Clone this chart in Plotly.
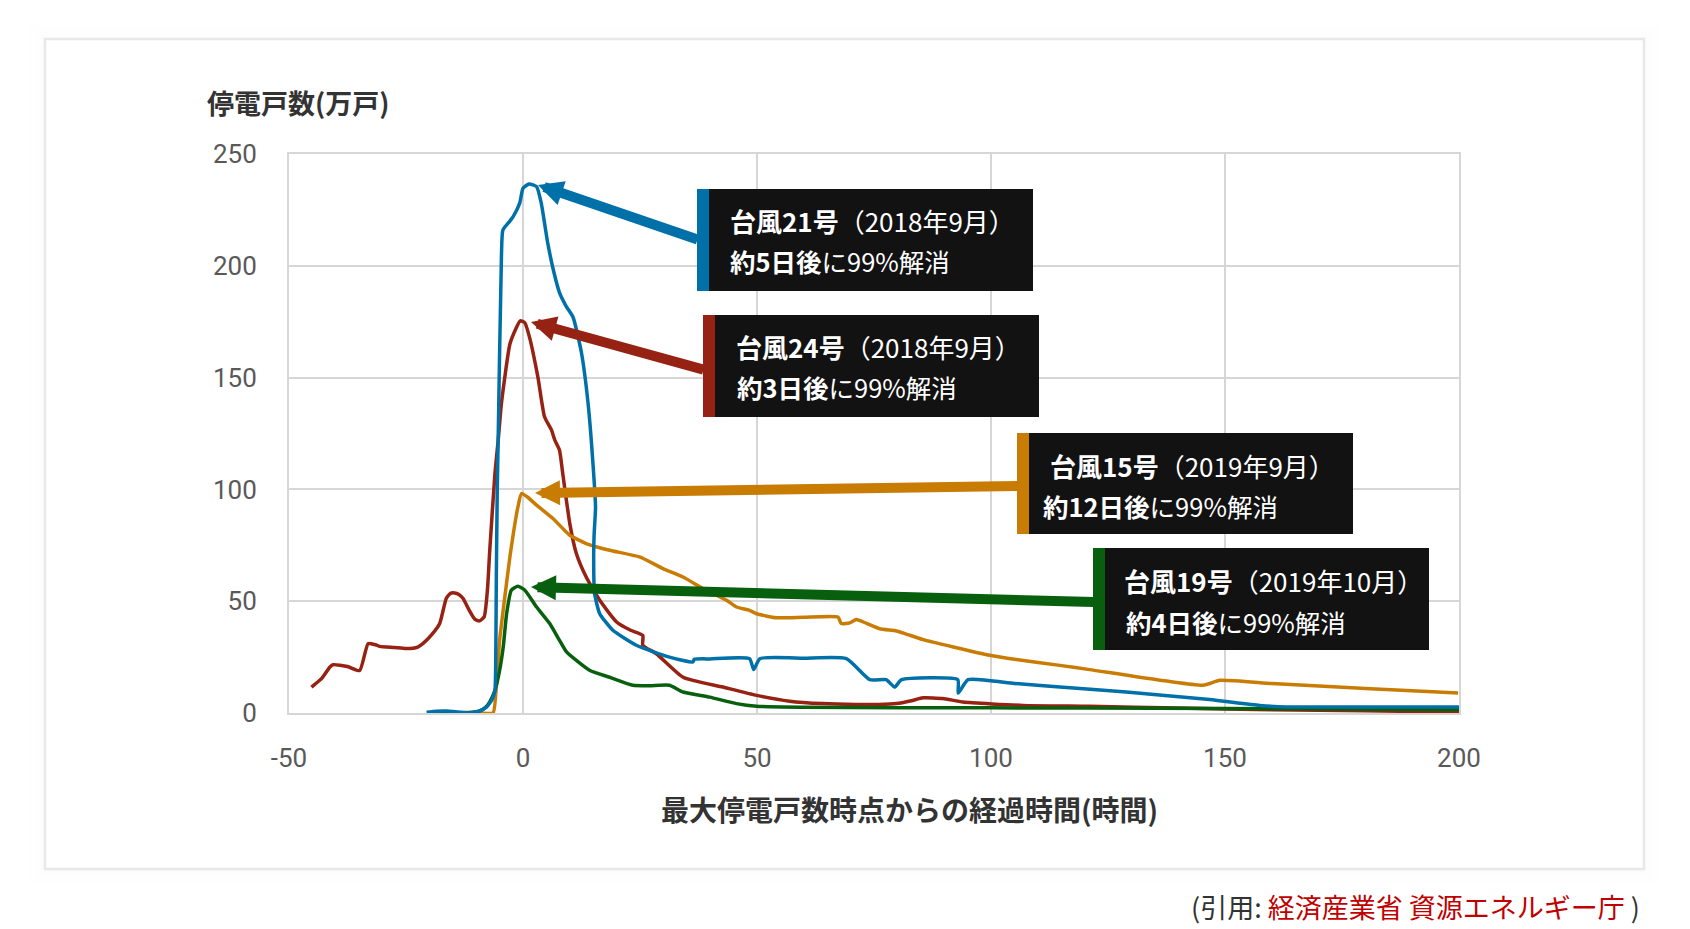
import plotly.graph_objects as go

# 台風21号 (2018年9月)
t21_x = [-20.6, -18.5, -16.4, -14, -11.4, -9.5, -7.8, -6.6, -6, -5.8, -5.7, -5.5, -5.3, -4.6, -4.3,
         -2.8, -2.1, -0.7, 0, 1.3, 2.9, 3.9, 5.3, 6.5, 7.8, 9.2, 10.7, 12.5, 13.9, 15, 15.5, 15.2,
         15.1, 15.3, 16.4, 19.2, 24.2, 31.3, 36.3, 36.6, 40, 48.4, 49.3, 50.6, 60, 69.1, 74.1, 77.6,
         79.4, 80.9, 92.9, 93, 95.1, 105, 114.7, 128.9, 146.7, 157.4, 163.1, 180, 200]
t21_y = [0.3, 0.8, 0.9, 0.5, 0, 0.8, 2.6, 6, 10, 30, 60, 100, 123, 205, 216,
         220, 222, 228, 234.7, 236.6, 235.4, 228, 210, 198, 188, 182, 177, 161, 138.6, 110, 92, 80,
         69.8, 53.4, 44.4, 37, 30.3, 25, 22.8, 24, 24.2, 24.3, 19.4, 24.3, 24.5, 24.3, 14.9, 14.9,
         11.6, 14.9, 14.9, 8.9, 14.9, 13.2, 11.6, 9.4, 6, 3.4, 2.7, 2.7, 2.7]

# 台風24号 (2018年9月)
t24_x = [-45.2, -43, -41.3, -40.6, -37.5, -34.9, -33.1, -31.5, -30.6, -27.5, -24.9, -22.5, -21.4,
         -19.5, -17.8, -16.4, -15.5, -14.6, -13.7, -12.8, -11.5, -10.3, -9.3, -8.3, -7.6, -7.1, -6,
         -5.3, -4.6, -2.8, -1.5, -0.6, 0.4, 1.4, 3.2, 4.6, 6.1, 6.8, 7.8, 8.5, 10, 11.4, 13.5, 16.4,
         20, 23, 25.6, 25.6, 28.5, 34.2, 42.7, 49.9, 57, 64, 71.2, 76, 79.8, 83, 85.5, 89.7, 94,
         106.8, 121.1, 140, 160, 180, 200]
t24_y = [11.6, 15.5, 20.5, 21.6, 20.8, 19, 31, 30.5, 29.8, 29.3, 28.8, 29.5, 31,
         35, 40, 51.2, 53.5, 53.7, 53, 51.2, 46, 42, 41.2, 43, 55, 72.8, 107,
         122, 138.6, 165, 172, 175.4, 174.5, 168, 150, 132.5, 126.5, 122, 117.5, 107, 84.7, 71.3, 60.8, 50.4,
         40.7, 37, 34.7, 30.3, 26.5, 16, 11.6, 7.9, 5.3, 4.2, 3.8, 3.8, 4.2, 5.5, 6.8, 6.5, 4.9,
         3.4, 3, 2.2, 1.5, 1.0, 0.4]

# 台風15号 (2019年9月)
t15_x = [-11, -9, -6.4, -5.7, -5, -4, -2.8, -1.1, -0.3, 1, 2.9, 6.4, 10, 13.5, 18.5, 24.9, 29.9,
         34.2, 38.5, 43.5, 45.6, 48.4, 49.9, 54.1, 60, 67.3, 68, 69.8, 71.2, 73.4, 76.2, 79.8, 81.9,
         85.5, 92.6, 99.7, 105.4, 114.7, 121.1, 145.3, 148.9, 160, 180, 199.8]
t15_y = [0, 0, 0, 12, 32.5, 50, 69.8, 92, 98.2, 96.5, 93, 87, 79.5, 75.8, 72.8, 69.8, 64.6,
         60.8, 55.6, 50.4, 47.4, 45.9, 44.4, 42.6, 42.8, 42.9, 40, 40.3, 41.8, 40.1, 37.7, 36.7, 35.3,
         32.8, 29.2, 25.8, 23.9, 21.3, 19.4, 12.4, 14.6, 13.2, 11, 8.9]

# 台風19号 (2019年10月)
t19_x = [-19.9, -15, -11, -9.3, -8, -7.1, -6, -5, -4.2, -3.5, -2.5, -1.1, 0.4, 2.9, 5.7, 7.8,
         9.3, 11.4, 14.3, 18.5, 23.5, 27, 31.3, 34.2, 39.9, 45.6, 49.9, 60, 80, 100, 120, 150, 180, 200]
t19_y = [0, 0, 0.3, 0.8, 2.5, 5, 10, 19, 30, 44.4, 54.9, 56.7, 54.9, 47.4, 40, 32.5,
         27.3, 23.5, 19, 16, 12.4, 12.2, 12.4, 9.4, 7.1, 4.2, 3.0, 2.6, 2.4, 2.3, 2.2, 2.0, 1.7, 1.5]

x_ticks = [-50, 0, 50, 100, 150, 200]
x_tick_labels = ["-50", "0", "50", "100", "150", "200"]
y_ticks = [0, 50, 100, 150, 200, 250]

C_BLUE = "#0070a8"
C_RED = "#952213"
C_ORANGE = "#c97c04"
C_GREEN = "#08600e"

# ページ余白 8px 分ずらす
OFF = 8
W, H = 1690 - OFF, 929 - OFF
L, R, T, B = 289, 1459, 154, 713  # plot area (page pixels)


def px(ox):
    return (ox - L) / (R - L)


def py(oy):
    return (B - oy) / (B - T)


def dx(ox):
    return -50 + (ox - L) / (R - L) * 250


def dy(oy):
    return (B - oy) / (B - T) * 250


fig = go.Figure()
for xs, ys, c in [(t24_x, t24_y, C_RED), (t15_x, t15_y, C_ORANGE),
                  (t19_x, t19_y, C_GREEN), (t21_x, t21_y, C_BLUE)]:
    fig.add_trace(go.Scatter(x=xs, y=ys, mode="lines",
                             line=dict(color=c, width=3.5, shape="spline", smoothing=0.5),
                             hoverinfo="skip"))

shapes = []
# 外枠と薄い影
FL, FT, FR, FB = 45, 39, 1644, 869
for g, a in zip(range(2, 20, 3), [0.012, 0.009, 0.007, 0.005, 0.003, 0.0015]):
    shapes.append(dict(type="rect", xref="paper", yref="paper",
                       x0=px(FL - g), x1=px(FR + g), y0=py(FB + g), y1=py(FT - g),
                       line=dict(color=f"rgba(0,0,0,{a})", width=3), layer="below"))
shapes.append(dict(type="rect", xref="paper", yref="paper",
                   x0=px(FL), x1=px(FR), y0=py(FB), y1=py(FT),
                   line=dict(color="#e8e8e8", width=2.5), layer="below"))

# 注釈ボックス (left, right, top, bottom, color)
boxes = [(697, 1033, 189, 291, C_BLUE), (703, 1039, 315, 417, C_RED),
         (1017, 1353, 433, 534, C_ORANGE), (1093, 1429, 548, 650, C_GREEN)]
for l, r, t, b, c in boxes:
    shapes.append(dict(type="rect", xref="paper", yref="paper",
                       x0=px(l), x1=px(r), y0=py(b), y1=py(t),
                       fillcolor="#121212", line=dict(width=0), layer="above"))
    shapes.append(dict(type="rect", xref="paper", yref="paper",
                       x0=px(l), x1=px(l + 12), y0=py(b), y1=py(t),
                       fillcolor=c, line=dict(width=0), layer="above"))

jp = "Noto Sans CJK JP"
annotations = []
# 矢印 (tip -> tail)
arrows = [((538, 185), (699, 240), C_BLUE), ((531, 322), (705, 370), C_RED),
          ((535, 493), (1019, 486), C_ORANGE), ((531, 587), (1095, 602), C_GREEN)]
for (tx, ty), (ax, ay), c in arrows:
    annotations.append(dict(x=dx(tx), y=dy(ty), ax=dx(ax), ay=dy(ay), xref="x", yref="y",
                            axref="x", ayref="y", text="", showarrow=True, arrowhead=2,
                            arrowsize=0.5, arrowwidth=10, arrowcolor=c, standoff=0))

labels = [
    (728, 220, "<b>台風21号</b>（2018年9月）", 728, 260, "<b>約5日後</b>に99%解消"),
    (734, 346, "<b>台風24号</b>（2018年9月）", 735, 386, "<b>約3日後</b>に99%解消"),
    (1048, 465, "<b>台風15号</b>（2019年9月）", 1041, 505, "<b>約12日後</b>に99%解消"),
    (1122, 580, "<b>台風19号</b>（2019年10月）", 1124, 621, "<b>約4日後</b>に99%解消"),
]
for x1, y1, s1, x2, y2, s2 in labels:
    for xx, yy, s, fs in [(x1, y1, s1, 26), (x2, y2, s2, 25.5)]:
        annotations.append(dict(x=px(xx), y=py(yy), xref="paper", yref="paper", text=s,
                                showarrow=False, xanchor="left", yanchor="middle",
                                font=dict(family=jp, size=fs, color="white")))

annotations.append(dict(x=px(205), y=py(103), xref="paper", yref="paper",
                        text="<b>停電戸数(万戸)</b>", showarrow=False, xanchor="left",
                        yanchor="middle", font=dict(family=jp, size=27, color="#333333")))
annotations.append(dict(x=px(909), y=py(809), xref="paper", yref="paper",
                        text="<b>最大停電戸数時点からの経過時間(時間)</b>", showarrow=False,
                        xanchor="center", yanchor="middle",
                        font=dict(family=jp, size=28, color="#333333")))
annotations.append(dict(x=px(1642), y=py(906), xref="paper", yref="paper",
                        text="(引用: <span style='color:#c00000'>経済産業省 資源エネルギー庁</span> )",
                        showarrow=False, xanchor="right", yanchor="middle",
                        font=dict(family=jp, size=27, color="#333333")))

fig.update_layout(
    width=W, height=H,
    margin=dict(l=L - OFF, r=W - (R - OFF), t=T - OFF, b=H - (B - OFF)),
    paper_bgcolor="white", plot_bgcolor="white",
    showlegend=False,
    shapes=shapes, annotations=annotations,
    font=dict(family="Roboto", size=26, color="#595959"),
)
fig.update_xaxes(range=[-50, 200], tickvals=x_ticks, ticktext=x_tick_labels, showgrid=True,
                 gridcolor="#d6d6d6", gridwidth=2, zeroline=False, showline=True, mirror=True,
                 linecolor="#d6d6d6", linewidth=2, ticks="outside", ticklen=21,
                 tickcolor="rgba(0,0,0,0)", tickfont=dict(family="Roboto", size=26, color="#595959"))
fig.update_yaxes(range=[0, 250], tickvals=y_ticks, showgrid=True, gridcolor="#d6d6d6",
                 gridwidth=2, zeroline=False, showline=True, mirror=True, linecolor="#d6d6d6",
                 linewidth=2, ticks="outside", ticklen=25, tickcolor="rgba(0,0,0,0)",
                 tickfont=dict(family="Roboto", size=26, color="#595959"))

fig.write_html("out.html", config={"displayModeBar": False})
